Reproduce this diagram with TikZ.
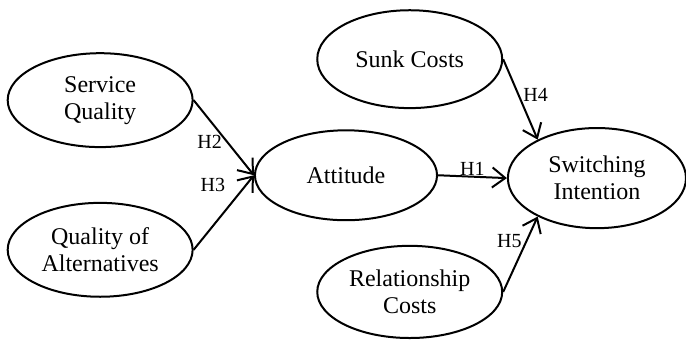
\documentclass[tikz,border=0pt]{standalone}
\usepackage{fontspec}
\setmainfont{Liberation Serif}
\usetikzlibrary{shapes.geometric,arrows.meta}
\begin{document}
\begin{tikzpicture}[
    construct/.style={ellipse, draw, line width=1pt, inner sep=0pt,
      minimum width=3.25cm, minimum height=1.65cm, align=center,
      font=\fontsize{12}{13.5}\selectfont},
    hyp/.style={font=\fontsize{10}{12}\selectfont, inner sep=2pt},
    link/.style={line width=1pt, -{Straight Barb[length=6.5pt,width=10pt,line width=1pt]}}
  ]
  \useasboundingbox (0,0) rectangle (12.055,6.01);
  \draw
    (1.76,4.25) node[construct] (sq){Service\\Quality}
    (1.76,1.62) node[construct] (qa){Quality of\\Alternatives}
    (6.08,2.93) node[construct, minimum width=3.2cm, minimum height=1.58cm] (att){Attitude}
    (7.20,4.97) node[construct, minimum height=1.72cm] (sc){Sunk Costs}
    (10.49,2.88) node[construct, minimum width=3.13cm, minimum height=1.76cm] (si){Switching\\Intention}
    (7.20,0.88) node[construct, minimum height=1.62cm] (rc){Relationship\\Costs};
  \begin{scope}[link]
    \draw (sq.east) to node[hyp, pos=0.55, left] {H2} (att.west);
    \draw (qa.east) to node[hyp, pos=0.87, left=8pt] {H3} (att.west);
    \draw (att.east) to node[hyp, midway, above, yshift=-2pt] {H1} (si.west);
    \draw (sc.east) to node[hyp, pos=0.44, right] {H4} (si.147);
    \draw (rc.east) to node[hyp, pos=0.68, left] {H5} (si.213);
  \end{scope}
\end{tikzpicture}
\end{document}
